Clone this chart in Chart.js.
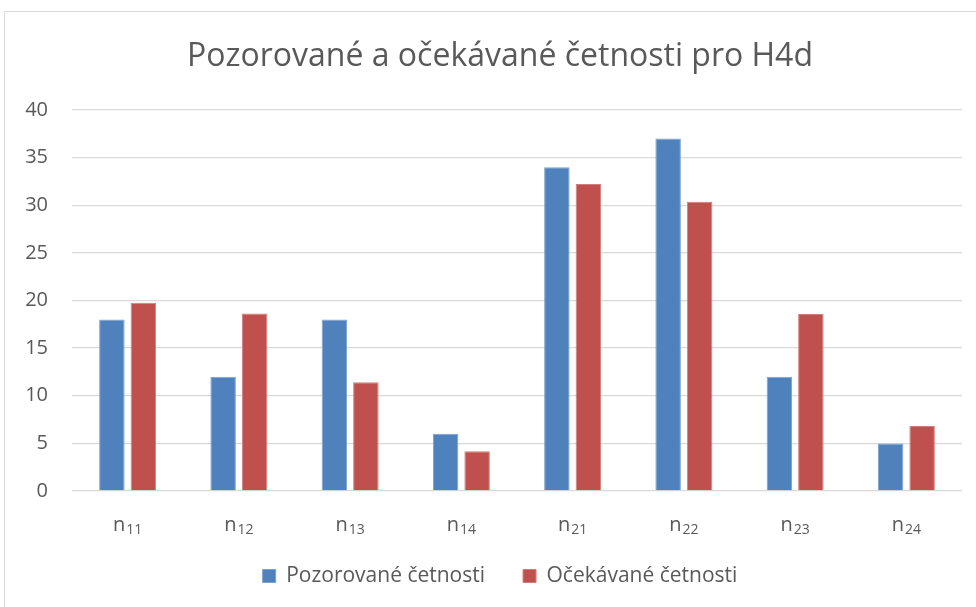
<!DOCTYPE html>
<html>
<head>
<meta charset="utf-8">
<script src="https://cdn.jsdelivr.net/npm/chart.js@4.4.1/dist/chart.umd.min.js"></script>
<style>
  html, body { margin: 0; padding: 0; background: #fff; overflow: hidden; }
  #wrap { position: relative; width: 976px; height: 607px; }
  #frame { position: absolute; left: 4px; top: 11px; width: 1100px; height: 800px;
           border: 1px solid #d9d9d9; box-sizing: border-box; pointer-events: none; }
  canvas { position: absolute; left: 0; top: 0; }
</style>
</head>
<body>
<div id="wrap">
  <canvas id="c" width="976" height="607"></canvas>
  <div id="frame"></div>
</div>
<script>
const categories = ['n₁₁', 'n₁₂', 'n₁₃', 'n₁₄', 'n₂₁', 'n₂₂', 'n₂₃', 'n₂₄'];
const observed = [18, 12, 18, 6, 34, 37, 12, 5];
const expected = [19.77, 18.63, 11.41, 4.18, 32.23, 30.37, 18.59, 6.82];
const seriesNames = ['Pozorované četnosti', 'Očekávané četnosti'];
const titleText = 'Pozorované a očekávané četnosti pro H4d';
const yMin = 0, yMax = 40, yStep = 5;

const FONT = "'Open Sans', 'DejaVu Sans', sans-serif";
const TXT = '#595959';
const SUB = '₀₁₂₃₄₅₆₇₈₉';

// Widen the y-scale's label area to the left so its tick labels are not clipped
const widenY = {
  id: 'widenY',
  afterLayout(chart) { chart.scales.y.left = 10; }
};

// Draws category labels as base letter + subscript, at the positions given by the x scale
const subLabels = {
  id: 'subLabels',
  afterDraw(chart) {
    const xs = chart.scales.x, ctx = chart.ctx;
    const baseY = chart.chartArea.bottom + 40;
    ctx.save();
    ctx.fillStyle = TXT;
    ctx.textBaseline = 'alphabetic';
    ctx.textAlign = 'left';
    chart.data.labels.forEach((lab, i) => {
      const base = lab[0];
      const sub = lab.slice(1).split('').map(ch => {
        const k = SUB.indexOf(ch); return k >= 0 ? String(k) : ch;
      }).join('');
      const fBase = '20px ' + FONT, fSub = '14px ' + FONT;
      ctx.font = fBase; const wb = ctx.measureText(base).width;
      ctx.font = fSub; const ws = ctx.measureText(sub).width;
      const x0 = xs.getPixelForValue(i) - (wb + 1 + ws) / 2;
      ctx.font = fBase; ctx.fillText(base, x0, baseY);
      ctx.font = fSub; ctx.fillText(sub, x0 + wb + 1, baseY + 3);
    });
    ctx.restore();
  }
};

new Chart(document.getElementById('c'), {
  type: 'bar',
  data: {
    labels: categories,
    datasets: [
      { label: seriesNames[0], data: observed, backgroundColor: '#4F81BD',
        borderColor: '#7da0cc', borderWidth: 1 },
      { label: seriesNames[1], data: expected, backgroundColor: '#C0504D',
        borderColor: '#d27e7c', borderWidth: 1 }
    ]
  },
  plugins: [widenY, subLabels],
  options: {
    responsive: false,
    animation: false,
    layout: { padding: { left: 38, right: 14, top: 0, bottom: 10.5 } },
    datasets: { bar: { categoryPercentage: 0.566, barPercentage: 0.81 } },
    plugins: {
      title: {
        display: true, text: titleText, color: TXT,
        font: { family: FONT, size: 32, weight: 'normal' },
        padding: { top: 38, bottom: 33.6 }
      },
      legend: {
        display: true, position: 'bottom',
        labels: {
          color: TXT, font: { family: FONT, size: 21 },
          boxWidth: 13, boxHeight: 13, padding: 38
        }
      },
      tooltip: { enabled: false }
    },
    scales: {
      x: {
        grid: { display: false, drawTicks: false },
        border: { display: false },
        ticks: { display: false },
        afterFit: (s) => { s.height = 36.5; }
      },
      y: {
        min: yMin, max: yMax,
        ticks: { stepSize: yStep, color: TXT, font: { family: FONT, size: 20 }, padding: 24 },
        grid: { color: '#d9d9d9', lineWidth: 1.3, drawTicks: false },
        border: { display: false },
        afterFit: (s) => { s.width = 34; }
      }
    }
  }
});
</script>
</body>
</html>
